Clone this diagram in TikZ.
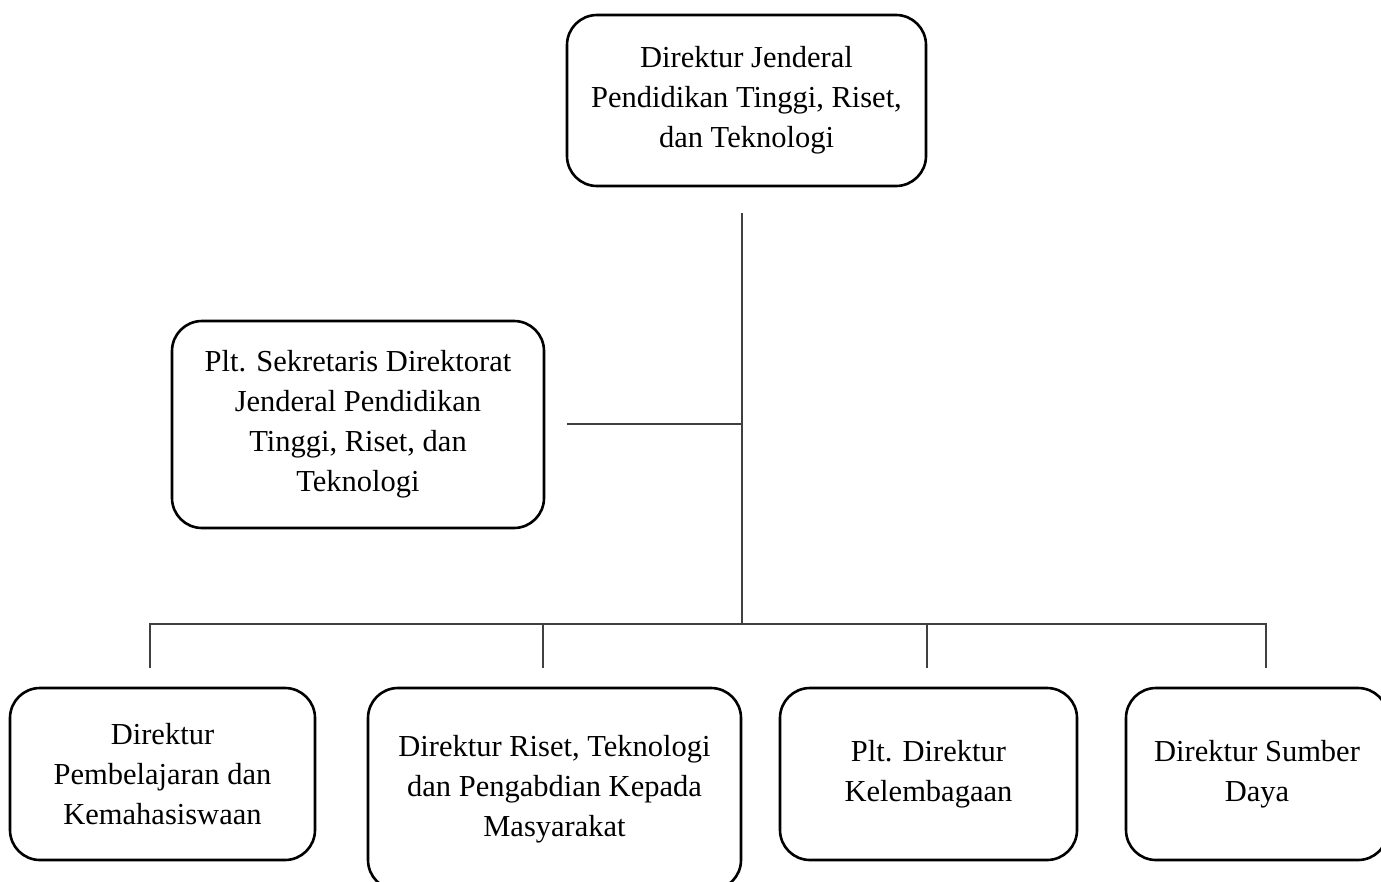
\documentclass[tikz,border=0pt]{standalone}
\usepackage{fontspec}
\setmainfont{Liberation Serif}
\begin{document}
\begin{tikzpicture}[x=1pt,y=-1pt,
  box/.style={draw, line width=2.6pt, rounded corners=30pt, align=center,
    font=\fontsize{30.5}{40}\selectfont, inner sep=0pt},
  conn/.style={line width=1.1pt, black!75}]
\useasboundingbox (0,0) rectangle (1381,881);
\node[box, minimum width=359pt, minimum height=171pt] (top) at (746.5,100.5)
  {Direktur Jenderal\\Pendidikan Tinggi, Riset,\\dan Teknologi};
\node[box, minimum width=372pt, minimum height=207pt] (sek) at (358,424.5)
  {Plt. Sekretaris Direktorat\\Jenderal Pendidikan\\Tinggi, Riset, dan\\Teknologi};
\node[box, minimum width=305pt, minimum height=172pt] (b1) at (162.5,774)
  {Direktur\\Pembelajaran dan\\Kemahasiswaan};
\node[box, minimum width=373pt, minimum height=202pt] (b2) at (554.5,789)
  {Direktur Riset, Teknologi\\dan Pengabdian Kepada\\Masyarakat};
\node[box, minimum width=297pt, minimum height=172pt] (b3) at (928.5,774)
  {Plt. Direktur\\Kelembagaan};
\node[box, minimum width=262pt, minimum height=172pt] (b4) at (1257,774)
  {Direktur Sumber\\Daya};
\coordinate (vtop) at (742,213);
\coordinate (vbot) at (742,624);
\coordinate (vmid) at (742,424);
\coordinate (sekend) at (567,424);
\coordinate (bus1) at (150,624);
\coordinate (bus2) at (543,624);
\coordinate (bus3) at (927,624);
\coordinate (bus4) at (1266,624);
\coordinate (d1) at (150,668);
\coordinate (d2) at (543,668);
\coordinate (d3) at (927,668);
\coordinate (d4) at (1266,668);
\draw[conn] (vtop) -- (vbot);
\draw[conn] (sekend) -- (vmid);
\draw[conn] (d1) -- (bus1) -- (bus4) -- (d4);
\draw[conn] (bus2) -- (d2);
\draw[conn] (bus3) -- (d3);
\end{tikzpicture}
\end{document}
